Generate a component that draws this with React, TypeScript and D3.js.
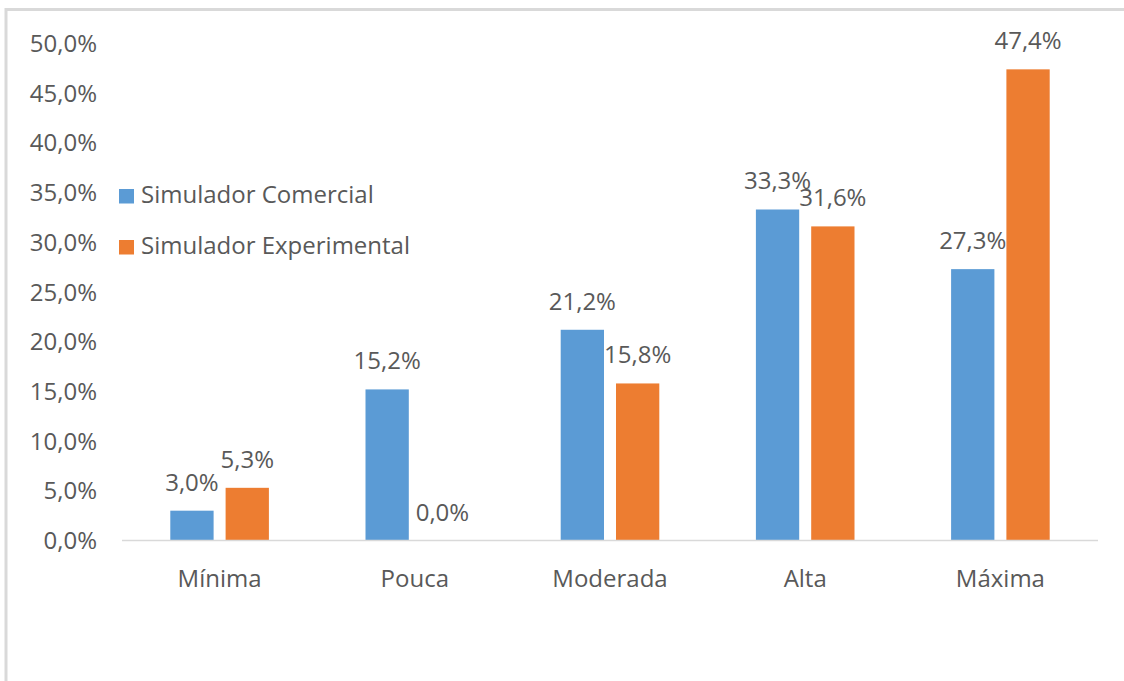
import React from "react";
import * as d3 from "d3";

const categories = ["Mínima", "Pouca", "Moderada", "Alta", "Máxima"];
const seriesNames = ["Simulador Comercial", "Simulador Experimental"];
const comercial = [3.0, 15.2, 21.2, 33.3, 27.3];
const experimental = [5.3, 0.0, 15.8, 31.6, 47.4];
const yTicks = [0, 5, 10, 15, 20, 25, 30, 35, 40, 45, 50];
const colors = ["#5B9BD5", "#ED7D31"];

const W = 1124;
const H = 681;
const FONT = "'Open Sans', sans-serif";
const TEXT = "#595959";

const fmt = (v: number) => v.toFixed(1).replace(".", ",") + "%";

export default function App() {
  const x = d3.scaleBand<string>().domain(categories).range([122, 1098]).padding(0);
  const y = d3.scaleLinear().domain([0, 50]).range([540.5, 43.5]);
  const barW = 43.3;
  const gap = 12;
  const series = [comercial, experimental];

  return (
    <svg
      width={W}
      height={H}
      style={{ position: "absolute", left: 0, top: 0, background: "#fff" }}
      fontFamily={FONT}
    >
      <rect x={6} y={9.5} width={W + 20} height={H + 20} fill="#fff" stroke="#d9d9d9" strokeWidth={3} />
      {yTicks.map((t) => (
        <text
          key={t}
          x={97}
          y={y(t) + 8.5}
          textAnchor="end"
          fontSize={24}
          fill={TEXT}
        >
          {fmt(t)}
        </text>
      ))}
      {categories.map((c, i) => {
        const cx = (x(c) as number) + x.bandwidth() / 2;
        return (
          <g key={c}>
            {series.map((s, si) => {
              const bx = si === 0 ? cx - gap / 2 - barW : cx + gap / 2;
              const v = s[i];
              return (
                <g key={si}>
                  {v > 0 && (
                    <rect
                      x={bx}
                      y={y(v)}
                      width={barW}
                      height={y(0) - y(v)}
                      fill={colors[si]}
                    />
                  )}
                  <text
                    x={bx + barW / 2}
                    y={y(v) - 20}
                    textAnchor="middle"
                    fontSize={24}
                    fill={TEXT}
                  >
                    {fmt(v)}
                  </text>
                </g>
              );
            })}
            <text x={cx} y={587} textAnchor="middle" fontSize={24} fill={TEXT}>
              {c}
            </text>
          </g>
        );
      })}
      <line x1={122} x2={1098} y1={540.5} y2={540.5} stroke="#d9d9d9" strokeWidth={1.5} />
      {seriesNames.map((n, i) => (
        <g key={n}>
          <rect x={119} y={189 + i * 51} width={15} height={14.5} fill={colors[i]} />
          <text x={141} y={203 + i * 51} fontSize={24} fill={TEXT}>
            {n}
          </text>
        </g>
      ))}
    </svg>
  );
}
